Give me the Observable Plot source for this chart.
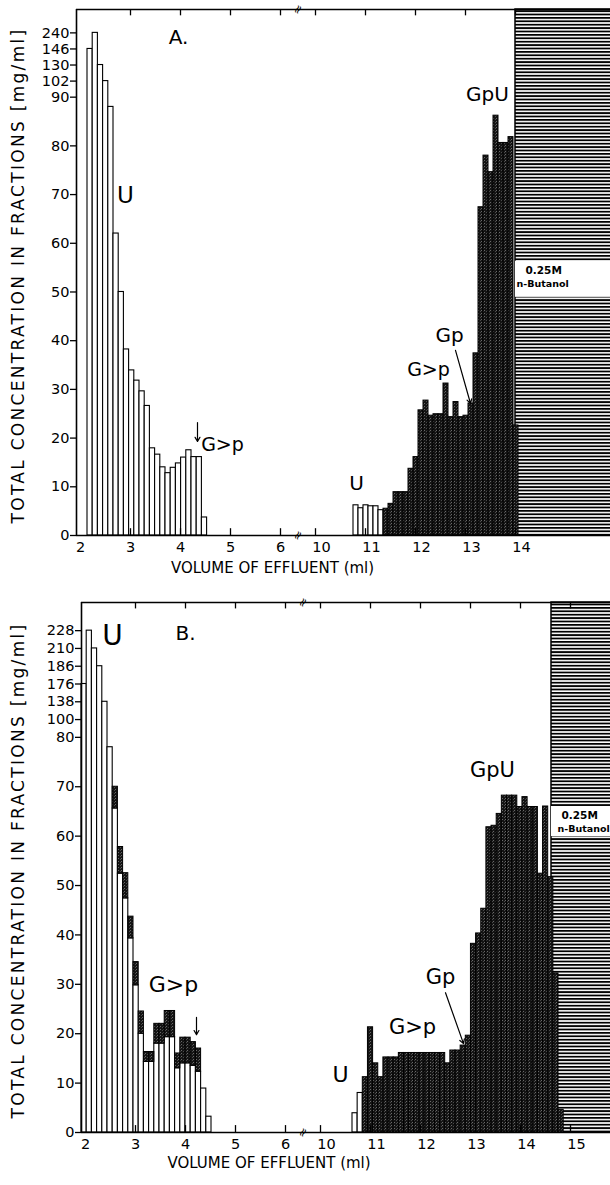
<!DOCTYPE html>
<html>
<head>
<meta charset="utf-8">
<script src="https://cdn.jsdelivr.net/npm/d3@7"></script>
<script src="https://cdn.jsdelivr.net/npm/@observablehq/plot@0.6"></script>
<style>
  html, body { margin: 0; padding: 0; background: #fff; }
  #chart svg { display: block; }
</style>
</head>
<body>
<div id="chart"></div>
<script>
// ---------------- DATA ----------------
const TITLE_Y = "TOTAL CONCENTRATION IN FRACTIONS [mg/ml]";
const TITLE_X = "VOLUME OF EFFLUENT (ml)";

const xTicksLeft = [2, 3, 4, 5, 6];
const aXTicksRight = [10, 11, 12, 13, 14];
const bXTicksRight = [10, 11, 12, 13, 14, 15];

const aYTicks = [0, 10, 20, 30, 40, 50, 60, 70, 80, 90];
const aBreakLabels = [102, 130, 146, 240];
const bYTicks = [0, 10, 20, 30, 40, 50, 60, 70, 80];
const bBreakLabels = [100, 138, 176, 186, 210, 228];

// Panel A fractions (mg/ml)
const aLeftStart = 2.14;
const aLeftValues = [146, 240, 130, 102, 88, 62, 50, 38.2, 33.9, 31.8, 29.6, 26.6, 17.9, 16.6, 14.0, 12.8, 13.9, 14.8, 16.0, 17.5, 16.1, 16.1, 3.7];
const aRightStart = 10.76;
const aRightWhite = [6.2, 5.6, 6.2, 6.0, 6.0, 5.2];
const aRightDark = [5.5, 6.5, 8.9, 8.9, 8.9, 13.7, 16.1, 25.7, 27.7, 24.6, 24.9, 24.9, 31.2, 24.3, 27.4, 24.3, 24.6, 27.1, 37.4, 67.4, 78.0, 74.6, 86.2, 80.6, 80.6, 81.8, 22.6];
const aSolventStart = 14.0;

// Panel B fractions (mg/ml): total height and lower (white) part
const bLeftStart = 1.92;
const bLeftTotal = [176, 228, 210, 186, 138, 78, 70, 57.8, 52.5, 43.7, 34.5, 24.5, 16.3, 16.3, 22.0, 22.0, 24.6, 24.6, 16.0, 19.2, 19.2, 18.3, 17.0, 8.9, 3.2];
const bLeftWhite = [176, 228, 210, 186, 138, 78, 65.6, 52.4, 47.4, 39.3, 29.8, 20.0, 14.3, 14.3, 18.0, 18.0, 19.3, 19.3, 13.0, 14.0, 14.0, 13.5, 12.3, 8.9, 3.2];
const bRightStart = 10.64;
const bRightWhite = [3.9, 8.0];
const bRightDark = [11.2, 21.3, 14.0, 11.2, 15.2, 15.2, 15.2, 16.1, 16.1, 16.1, 16.1, 16.1, 16.1, 16.1, 16.1, 16.1, 14.0, 16.6, 16.6, 17.6, 19.6, 38.2, 40.3, 45.3, 61.8, 62.1, 64.5, 68.2, 68.2, 68.2, 65.9, 67.9, 65.9, 65.9, 52.4, 66.0, 51.7, 32.2, 4.6];
const bSolventStart = 14.62;

// Annotations (volume, concentration)
const aNotes = [
  {t: "A.", v: 3.96, y: 102.3, s: 20},
  {t: "U", v: 2.9, y: 69.8, s: 23},
  {t: "G>p", v: 4.84, y: 18.5, s: 19},
  {t: "U", v: 10.82, y: 10.7, s: 20},
  {t: "G>p", v: 12.26, y: 33.9, s: 19},
  {t: "Gp", v: 12.68, y: 41.1, s: 20},
  {t: "GpU", v: 13.44, y: 90.6, s: 20}
];
const aSolventNotes = [
  {t: "0.25M", v: 14.2, y: 54.4, s: 10.5},
  {t: "n-Butanol", v: 14.02, y: 51.7, s: 9.5}
];
const aArrows = [
  {v1: 4.34, y1: 23.2, v2: 4.34, y2: 19.3},
  {v1: 12.8, y1: 38.0, v2: 13.1, y2: 27.1}
];
const aBox = {v1: 14.0, y1: 48.9, y2: 56.3};

const bNotes = [
  {t: "B.", v: 4.0, y: 101.0, s: 20},
  {t: "U", v: 2.54, y: 100.6, s: 28},
  {t: "G>p", v: 3.76, y: 29.8, s: 22},
  {t: "U", v: 10.4, y: 11.7, s: 22},
  {t: "G>p", v: 11.84, y: 21.3, s: 21},
  {t: "Gp", v: 12.4, y: 31.4, s: 21},
  {t: "GpU", v: 13.44, y: 73.3, s: 21}
];
const bSolventNotes = [
  {t: "0.25M", v: 14.82, y: 64.2, s: 10.5},
  {t: "n-Butanol", v: 14.74, y: 61.5, s: 9.5}
];
const bArrows = [
  {v1: 4.22, y1: 23.3, v2: 4.22, y2: 19.8},
  {v1: 12.5, y1: 28.3, v2: 12.86, y2: 18.0}
];
const bBox = {v1: 14.62, y1: 59.9, y2: 66.0};

// ---------------- HELPERS ----------------
const GAP = 3.3;                       // hidden stretch of the broken x axis (ml)
const pos = v => (v < 8 ? v : v - GAP);
const FONT = "DejaVu Sans";

function makeDisplay(base, breaks, step) {
  return v => {
    if (v <= base) return v;
    const i = breaks.indexOf(v);
    if (i >= 0) return base + step * (i + 1);
    let k = breaks.findIndex(b => b > v);
    if (k < 0) k = breaks.length - 1;
    return base + step * (k + 1);
  };
}

function bars(start, step, lower, upper, offset = 0) {
  return upper.map((u, i) => ({
    x1: start + (i + offset) * step,
    x2: start + (i + offset + 1) * step,
    lo: lower ? lower[i] : 0,
    hi: u
  }));
}

function panel(cfg) {
  const disp = makeDisplay(cfg.base, cfg.breaks, cfg.bstep);
  const yTickVals = [...cfg.ticks, ...cfg.breaks.map(disp)];
  const yLabel = new Map([...cfg.ticks.map(t => [t, String(t)]), ...cfg.breaks.map(b => [disp(b), String(b)])]);
  const allX = [...xTicksLeft.filter(d => d > 2), ...cfg.xRight];
  const hatchId = "hatch" + cfg.id, darkId = "dark" + cfg.id;

  const svg = Plot.plot({
    width: 610, height: cfg.height,
    marginTop: cfg.mt, marginBottom: cfg.mb, marginLeft: cfg.ml, marginRight: 0,
    x: {type: "linear", domain: [cfg.x0, cfg.x1], axis: null},
    y: {type: "linear", domain: [0, cfg.yTop], axis: null},
    style: {fontFamily: FONT, color: "black", background: "white", overflow: "visible"},
    marks: [
      // solvent front region
      Plot.rect([cfg.solvent], {x1: d => pos(d), x2: cfg.x1 + 0.5, y1: 0, y2: cfg.yTop, fill: `url(#${hatchId})`, stroke: "black", strokeWidth: 1.5}),
      Plot.rect([cfg.box], {x1: d => pos(d.v1), x2: cfg.x1 + 0.5, y1: "y1", y2: "y2", fill: "white"}),
      Plot.text(cfg.solventNotes, {x: d => pos(d.v), y: "y", text: "t", fontSize: "s", textAnchor: "start", fontWeight: "bold", fill: "black"}),
      // fractions
      Plot.rect(cfg.white, {x1: d => pos(d.x1), x2: d => pos(d.x2), y1: 0, y2: d => disp(d.hi), fill: "white", stroke: "black", strokeWidth: 1.1}),
      Plot.rect(cfg.dark, {x1: d => pos(d.x1), x2: d => pos(d.x2), y1: d => disp(d.lo), y2: d => disp(d.hi), fill: `url(#${darkId})`, stroke: "black", strokeWidth: 1}),
      // frame lines
      Plot.ruleY([0], {x1: cfg.x0, x2: cfg.x1 + 0.5, stroke: "black", strokeWidth: 1.6}),
      Plot.ruleY([cfg.yTop], {x1: cfg.x0, x2: cfg.x1 + 0.5, stroke: "black", strokeWidth: 1.6}),
      Plot.ruleX([cfg.x0], {y1: 0, y2: cfg.yTop, stroke: "black", strokeWidth: 1.6}),
      // x ticks (inward, bottom and top)
      Plot.ruleX(allX.map(pos), {y1: 0, y2: 1.4, stroke: "black", strokeWidth: 1.3}),
      Plot.ruleX(allX.map(pos), {y1: cfg.yTop, y2: cfg.yTop - 1.3, stroke: "black", strokeWidth: 1.3}),
      // axis break marks on the x axis (between 6 and 10)
      Plot.text([pos(6.35)], {x: d => d, y: 0, text: ["≈"], fontSize: 12, rotate: -60, fill: "black"}),
      Plot.text([pos(6.35)], {x: d => d, y: cfg.yTop, text: ["≈"], fontSize: 12, rotate: -60, fill: "black"}),
      // axes
      Plot.axisY({ticks: yTickVals, tickFormat: d => yLabel.get(d), tickSize: 6, tickPadding: 1, fontSize: 14.5, label: null, strokeWidth: 1.3}),
      Plot.axisX({ticks: xTicksLeft, tickFormat: d => String(d), tickSize: 0, tickPadding: cfg.xpad, fontSize: 14.5, label: null}),
      Plot.axisX({ticks: cfg.xRight.map(pos), tickFormat: d => String(Math.round(d + GAP)), tickSize: 0, tickPadding: cfg.xpad, fontSize: 14.5, label: null, dx: 6}),
      // titles
      Plot.text([TITLE_Y], {frameAnchor: "left", dx: 18 - cfg.ml, dy: 3, rotate: -90, fontSize: 17, textAnchor: "middle", lineAnchor: "middle"}),
      Plot.text([TITLE_X], {frameAnchor: "bottom", dx: cfg.titleDx, dy: cfg.titleDy, fontSize: 15, textAnchor: "middle", lineAnchor: "middle"}),
      // annotations
      Plot.text(cfg.notes, {x: d => pos(d.v), y: "y", text: "t", fontSize: "s", fill: "black", lineAnchor: "middle"}),
      Plot.arrow(cfg.arrows, {x1: d => pos(d.v1), y1: "y1", x2: d => pos(d.v2), y2: "y2", headLength: 6, strokeWidth: 1.2, stroke: "black", bend: 0})
    ]
  });

  const root = d3.select(svg);
  const defs = root.insert("defs", ":first-child");
  const hp = defs.append("pattern").attr("id", hatchId).attr("patternUnits", "userSpaceOnUse").attr("width", 12).attr("height", 3.4);
  hp.append("rect").attr("width", 12).attr("height", 3.4).attr("fill", "white");
  hp.append("rect").attr("width", 12).attr("height", 1.8).attr("fill", "black");
  const dp = defs.append("pattern").attr("id", darkId).attr("patternUnits", "userSpaceOnUse").attr("width", 3).attr("height", 3);
  dp.append("rect").attr("width", 3).attr("height", 3).attr("fill", "#141414");
  dp.append("path").attr("d", "M0.5,2.5L1.8,1.2").attr("stroke", "#c8c8c8").attr("stroke-width", 0.6);
  root.selectAll("text").filter(function () { return this.textContent === TITLE_Y; }).attr("letter-spacing", "2.3px");
  return svg;
}

// ---------------- BUILD ----------------
const aWhite = [...bars(aLeftStart, 0.104, null, aLeftValues), ...bars(aRightStart, 0.1, null, aRightWhite)];
const aDark = bars(aRightStart, 0.1, null, aRightDark, aRightWhite.length);

const bWhite = [...bars(bLeftStart, 0.104, null, bLeftWhite), ...bars(bRightStart, 0.103, null, bRightWhite)];
const bDark = [
  ...bars(bLeftStart, 0.104, bLeftWhite, bLeftTotal).filter(d => d.hi > d.lo),
  ...bars(bRightStart, 0.103, null, bRightDark, bRightWhite.length)
];

const chart = document.getElementById("chart");
chart.appendChild(panel({
  id: "A", height: 590, mt: 9, mb: 55, ml: 76, x0: 1.92, x1: 12.6, yTop: 108,
  ticks: aYTicks, breaks: aBreakLabels, base: 90, bstep: 3.3,
  xRight: aXTicksRight, xpad: 6, titleDx: -71, titleDy: 33,
  white: aWhite, dark: aDark, solvent: aSolventStart, box: aBox,
  notes: aNotes, solventNotes: aSolventNotes, arrows: aArrows
}));
chart.appendChild(panel({
  id: "B", height: 595, mt: 12, mb: 53, ml: 81, x0: 1.92, x1: 12.5, yTop: 107.3,
  ticks: bYTicks, breaks: bBreakLabels, base: 80, bstep: 3.6,
  xRight: bXTicksRight, xpad: 6, titleDx: -77, titleDy: 31,
  white: bWhite, dark: bDark, solvent: bSolventStart, box: bBox,
  notes: bNotes, solventNotes: bSolventNotes, arrows: bArrows
}));
</script>
</body>
</html>
